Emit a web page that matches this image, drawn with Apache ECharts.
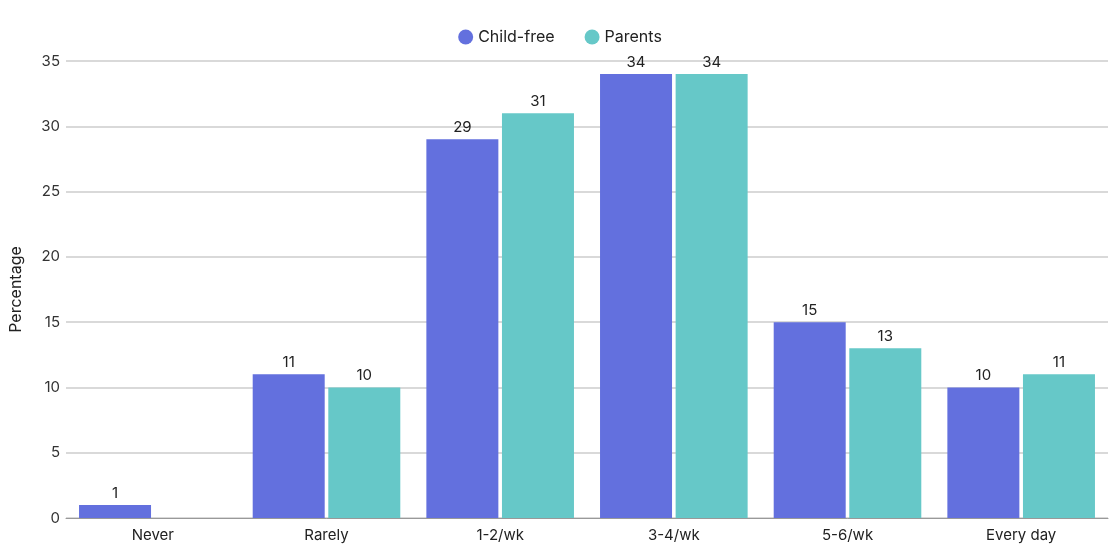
<!DOCTYPE html>
<html>
<head>
<meta charset="utf-8">
<script src="https://cdn.jsdelivr.net/npm/echarts@6/dist/echarts.min.js"></script>
<style>
  html, body { margin: 0; padding: 0; background: #fff; }
  #chart { width: 1120px; height: 560px; }
</style>
</head>
<body>
<div id="chart"></div>
<script>
const categories = ['Never', 'Rarely', '1-2/wk', '3-4/wk', '5-6/wk', 'Every day']
const childFree = [1, 11, 29, 34, 15, 10]
const parents = [0, 10, 31, 34, 13, 11]

const font = 'Inter, "Noto Sans", sans-serif'

const myChart = echarts.init(document.getElementById('chart'))

// labels for zero bars are left out
const labelOpt = {
  show: true,
  position: 'top',
  distance: 4,
  color: '#222',
  fontSize: 15,
  fontFamily: font,
  formatter: p => (p.value === 0 ? '' : p.value)
}

const option = {
  animation: false,
  textStyle: { fontFamily: font },
  legend: {
    top: 24,
    left: 'center',
    icon: 'circle',
    itemWidth: 15,
    itemHeight: 15,
    itemGap: 30,
    textStyle: { fontSize: 16, color: '#222', fontFamily: font }
  },
  grid: { left: 62, right: 12, top: 61, bottom: 42 },
  xAxis: {
    type: 'category',
    data: categories,
    axisTick: { show: false },
    axisLine: { lineStyle: { color: '#999' } },
    axisLabel: { color: '#222', fontSize: 15, margin: 10, fontFamily: font }
  },
  yAxis: {
    type: 'value',
    min: 0,
    max: 35,
    interval: 5,
    name: 'Percentage',
    nameLocation: 'middle',
    nameGap: 42,
    nameTextStyle: { color: '#222', fontSize: 16, fontFamily: font },
    axisLabel: { color: '#333', fontSize: 15, margin: 6, fontFamily: font },
    splitLine: { lineStyle: { color: '#ccc', width: 1.5 } }
  },
  series: [
    {
      name: 'Child-free',
      type: 'bar',
      data: childFree,
      barWidth: 72,
      barGap: '5%',
      itemStyle: { color: '#6370DE' },
      label: labelOpt
    },
    {
      name: 'Parents',
      type: 'bar',
      data: parents,
      barWidth: 72,
      itemStyle: { color: '#66C8C8' },
      label: labelOpt
    }
  ]
}

myChart.setOption(option)
</script>
</body>
</html>
